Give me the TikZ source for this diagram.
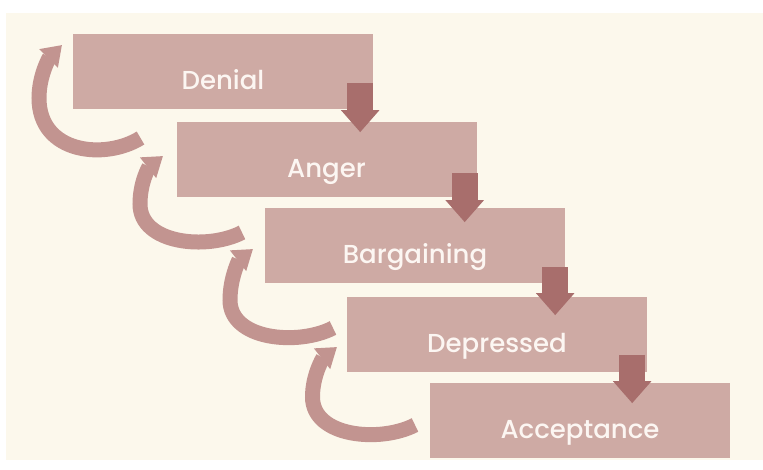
\documentclass[tikz,border=0pt]{standalone}
\usepackage{fontspec}
\setmainfont{Poppins}
\newfontfamily\stagefont{Poppins Medium}
\usetikzlibrary{arrows.meta}
\definecolor{paper}{RGB}{252,248,236}
\definecolor{stagefill}{RGB}{206,170,164}
\definecolor{dropcol}{RGB}{168,110,108}
\definecolor{backcol}{RGB}{194,148,144}
\definecolor{stagetext}{RGB}{252,246,242}

\begin{document}
\begin{tikzpicture}[x=1pt,y=-1pt,
  stage/.style={fill=stagefill, minimum width=300pt, minimum height=75pt, inner sep=0pt,
    text=stagetext, font=\stagefont\fontsize{26}{26}\selectfont, text height=36pt, text depth=0pt},
  drop/.style={dropcol, line width=26pt, -{Triangle[width=37pt,length=22pt]}},
  back/.style={backcol, line width=15pt, -{Triangle[width=25pt,length=19pt]}}]

\useasboundingbox (0,0) rectangle (763,469);
\fill[white] (0,0) rectangle (763,469);
\fill[paper] (6,13) rectangle (763,460);

% the five stages
\node[stage] (denial) at (223,71.5) {Denial};
\node[stage] (anger) at (326.5,159.5) {Anger};
\node[stage] (bargaining) at (415,245.5) {Bargaining};
\node[stage] (depressed) at (497,334) {Depressed};
\node[stage] (acceptance) at (580,420.5) {Acceptance};

% forward arrows
\draw[drop] ([shift={(-13,-26)}]denial.south east) -- ([shift={(-13,23)}]denial.south east);
\draw[drop] ([shift={(-12,-24)}]anger.south east) -- ([shift={(-12,25)}]anger.south east);
\draw[drop] ([shift={(-10,-16)}]bargaining.south east) -- ([shift={(-10,32)}]bargaining.south east);
\draw[drop] ([shift={(-15,-17)}]depressed.south east) -- ([shift={(-15,31.5)}]depressed.south east);

% going back
\coordinate (t1) at (140.5,138);
\coordinate (l1) at (39,98);
\coordinate (h1) at (62,45);
\draw[back] (t1) .. controls +(-35,22) and +(0,56) .. (l1) .. controls +(0,-22) and +(-13,13) .. (h1);

\coordinate (t2) at (242,232.5);
\coordinate (l2) at (140,204);
\coordinate (h2) at (163,156);
\draw[back] (t2) .. controls +(-35,18) and +(0,40) .. (l2) .. controls +(0,-22) and +(-14,11) .. (h2);

\coordinate (t3) at (333,328);
\coordinate (l3) at (230,300);
\coordinate (h3) at (253,249);
\draw[back] (t3) .. controls +(-35,18) and +(0,40) .. (l3) .. controls +(0,-22) and +(-14,11) .. (h3);

\coordinate (t4) at (415,425);
\coordinate (l4) at (312.5,397);
\coordinate (h4) at (337,347);
\draw[back] (t4) .. controls +(-35,18) and +(0,40) .. (l4) .. controls +(0,-22) and +(-14,11) .. (h4);

\end{tikzpicture}
\end{document}
